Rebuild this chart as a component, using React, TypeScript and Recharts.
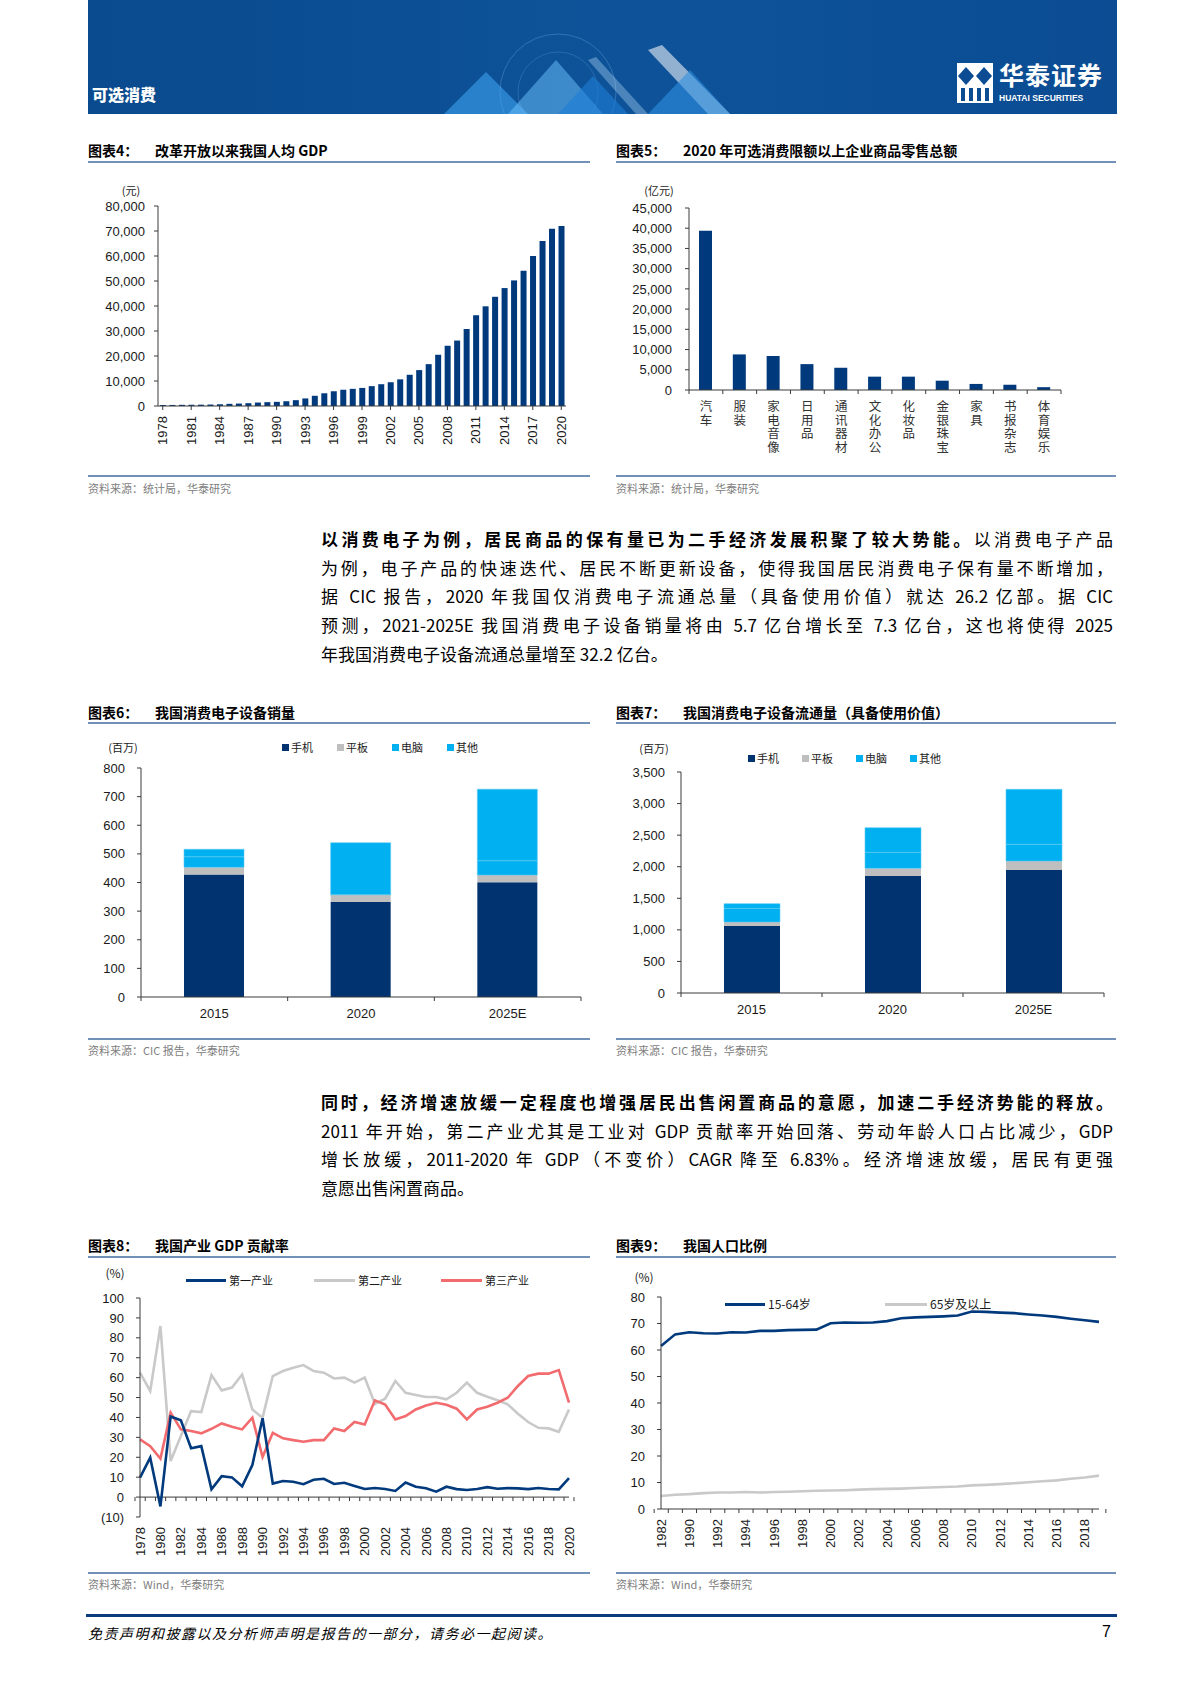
import React from "react";
import { BarChart, Bar, LineChart, Line, XAxis, YAxis, ReferenceLine } from "recharts";

const NAVY = "#003A7D";
const DEEP = "#00336F";
const GREY_BAR = "#BFBFBF";
const SKY = "#00B0F0";
const RED = "#F26B6E";
const GREY_LINE = "#C9C9C9";
const AXIS = "#3A3A3A";
const TXT = "#1A1A1A";
const RULE = "#7391B8";
const CJK = '"Noto Sans CJK SC", "Noto Sans", sans-serif';
const NUM = '"Liberation Sans", Arial, "Noto Sans CJK SC", sans-serif';

// 图表4 人均 GDP
const gdpYears = ["1978", "1979", "1980", "1981", "1982", "1983", "1984", "1985", "1986", "1987", "1988", "1989", "1990", "1991", "1992", "1993", "1994", "1995", "1996", "1997", "1998", "1999", "2000", "2001", "2002", "2003", "2004", "2005", "2006", "2007", "2008", "2009", "2010", "2011", "2012", "2013", "2014", "2015", "2016", "2017", "2018", "2019", "2020"];
const gdpPerCapita = [385, 423, 468, 497, 533, 588, 702, 866, 973, 1123, 1378, 1536, 1663, 1912, 2334, 3027, 4081, 5091, 5898, 6481, 6860, 7229, 7942, 8717, 9506, 10666, 12487, 14368, 16738, 20494, 24100, 26180, 30808, 36302, 39874, 43684, 47173, 50237, 54139, 60014, 66006, 70892, 72000];
const gdpTicks = [0, 10000, 20000, 30000, 40000, 50000, 60000, 70000, 80000];

// 图表5 零售总额
const retailCats = ["汽车", "服装", "家电音像", "日用品", "通讯器材", "文化办公", "化妆品", "金银珠宝", "家具", "书报杂志", "体育娱乐"];
const retailValues = [39400, 8800, 8400, 6400, 5500, 3300, 3300, 2300, 1500, 1300, 700];
const retailTicks = [0, 5000, 10000, 15000, 20000, 25000, 30000, 35000, 40000, 45000];

// 图表6/7 消费电子
const deviceYears = ["2015", "2020", "2025E"];
const deviceSeries = ["手机", "平板", "电脑", "其他"];
const salesPhone = [428, 332, 401];
const salesTablet = [25, 25, 25];
const salesPC = [37, 0, 50];
const salesOther = [26, 182, 250];
const salesTicks = [0, 100, 200, 300, 400, 500, 600, 700, 800];
const stockPhone = [1061, 1853, 1948];
const stockTablet = [63, 121, 142];
const stockPC = [217, 254, 265];
const stockOther = [74, 390, 871];
const stockTicks = [0, 500, 1000, 1500, 2000, 2500, 3000, 3500];

// 图表8 三产贡献率
const contribYears = gdpYears;
const primaryInd = [9.8, 19.8, -4.7, 40.5, 38.6, 24.5, 25.6, 3.9, 10.5, 9.9, 5.4, 16.1, 39.6, 6.8, 8.1, 7.7, 6.5, 8.7, 9.2, 6.6, 7.2, 5.6, 4.1, 4.6, 4.1, 3.1, 7.3, 5.2, 4.4, 2.7, 5.2, 4.0, 3.6, 4.1, 5.0, 4.2, 4.5, 4.4, 4.0, 4.6, 4.1, 3.9, 9.5];
const secondaryInd = [62.5, 53.3, 85.9, 18.1, 30.7, 43.2, 42.7, 61.3, 53.6, 55.0, 61.6, 44.0, 39.9, 60.8, 63.3, 65.0, 66.3, 63.3, 62.5, 59.6, 60.0, 57.5, 60.0, 46.8, 49.4, 58.3, 52.4, 51.3, 50.3, 50.3, 49.1, 52.4, 57.5, 52.4, 50.4, 48.6, 46.6, 41.9, 37.7, 34.8, 34.5, 32.8, 44.0];
const tertiaryInd = [29.0, 25.6, 19.3, 42.4, 34.0, 33.2, 32.0, 34.3, 37.0, 35.3, 34.0, 39.9, 20.1, 32.3, 29.5, 28.6, 27.8, 28.6, 28.6, 34.5, 33.2, 37.7, 36.5, 48.6, 46.5, 39.0, 40.7, 44.0, 46.0, 47.4, 46.4, 44.4, 39.0, 44.0, 45.4, 47.4, 49.9, 55.8, 60.8, 62.0, 62.0, 63.8, 47.4];
const contribTicks = [-10, 0, 10, 20, 30, 40, 50, 60, 70, 80, 90, 100];

// 图表9 人口比例
const popYears = ["1982", "1987", "1990", "1991", "1992", "1993", "1994", "1995", "1996", "1997", "1998", "1999", "2000", "2001", "2002", "2003", "2004", "2005", "2006", "2007", "2008", "2009", "2010", "2011", "2012", "2013", "2014", "2015", "2016", "2017", "2018", "2019"];
const working = [61.5, 65.9, 66.7, 66.3, 66.2, 66.7, 66.6, 67.2, 67.2, 67.5, 67.6, 67.7, 70.1, 70.4, 70.3, 70.4, 70.9, 72.0, 72.3, 72.5, 72.7, 73.0, 74.5, 74.4, 74.1, 73.9, 73.4, 73.0, 72.5, 71.8, 71.2, 70.6];
const elderly = [4.9, 5.4, 5.6, 6.0, 6.2, 6.2, 6.4, 6.2, 6.4, 6.5, 6.7, 6.9, 7.0, 7.1, 7.3, 7.5, 7.6, 7.7, 7.9, 8.1, 8.3, 8.5, 8.9, 9.1, 9.4, 9.7, 10.1, 10.5, 10.8, 11.4, 11.9, 12.6];
const popTicks = [0, 10, 20, 30, 40, 50, 60, 70, 80];

const gdpData = gdpYears.map((year, i) => ({ year, value: gdpPerCapita[i] }));
const retailData = retailCats.map((name, i) => ({ name, value: retailValues[i] }));
const salesData = deviceYears.map((year, i) => ({ year, phone: salesPhone[i], tablet: salesTablet[i], pc: salesPC[i], other: salesOther[i] }));
const stockData = deviceYears.map((year, i) => ({ year, phone: stockPhone[i], tablet: stockTablet[i], pc: stockPC[i], other: stockOther[i] }));
const contribData = contribYears.map((year, i) => ({ year, p: primaryInd[i], s: secondaryInd[i], t: tertiaryInd[i] }));
const popData = popYears.map((year, i) => ({ year, w: working[i], e: elderly[i] }));

const thousands = (v: number) => v.toLocaleString("en-US");
const paren = (v: number) => (v < 0 ? `(${-v})` : `${v}`);
const yTick = { fontSize: 13, fill: TXT, fontFamily: NUM };

// rotated year labels; tick marks either at centre or at band boundary
function yearTick(band: number, every: number, lift: number, count: number, boundary: boolean) {
  return (props: any) => {
    const { x, y, payload, index } = props;
    const ay = y - lift;
    const show = index % every === 0;
    return (
      <g>
        {boundary ? (
          <>
            <line x1={x - band / 2} x2={x - band / 2} y1={ay} y2={ay + 4} stroke={AXIS} />
            {index === count - 1 && <line x1={x + band / 2} x2={x + band / 2} y1={ay} y2={ay + 4} stroke={AXIS} />}
          </>
        ) : (
          show && <line x1={x} x2={x} y1={ay} y2={ay + 4} stroke={AXIS} />
        )}
        {show && (
          <text
            x={x}
            y={y + 10}
            transform={`rotate(-90 ${x} ${y + 10})`}
            textAnchor="end"
            dominantBaseline="central"
            fontSize={13}
            fontFamily={NUM}
            fill={TXT}
          >
            {payload.value}
          </text>
        )}
      </g>
    );
  };
}

// one label per category, set vertically (top to bottom)
function verticalCatTick(band: number, count: number) {
  return (props: any) => {
    const { x, y, payload, index } = props;
    return (
      <g>
        <line x1={x - band / 2} x2={x - band / 2} y1={y} y2={y + 4} stroke={AXIS} />
        {index === count - 1 && <line x1={x + band / 2} x2={x + band / 2} y1={y} y2={y + 4} stroke={AXIS} />}
        <text
          x={x}
          y={y + 10}
          textAnchor="start"
          fontSize={12.5}
          fontFamily={CJK}
          fill="#333"
          letterSpacing={1}
          style={{ writingMode: "vertical-rl" }}
        >
          {payload.value}
        </text>
      </g>
    );
  };
}

function flatCatTick(band: number, count: number) {
  return (props: any) => {
    const { x, y, payload, index } = props;
    return (
      <g>
        <line x1={x - band / 2} x2={x - band / 2} y1={y} y2={y + 4} stroke={AXIS} />
        {index === count - 1 && <line x1={x + band / 2} x2={x + band / 2} y1={y} y2={y + 4} stroke={AXIS} />}
        <text x={x} y={y + 21} textAnchor="middle" fontSize={13} fontFamily={NUM} fill={TXT}>
          {payload.value}
        </text>
      </g>
    );
  };
}

const Abs = ({ x, y, children, style }: any) => (
  <div style={{ position: "absolute", left: x, top: y, whiteSpace: "nowrap", ...style }}>{children}</div>
);

const Centered = ({ x, y, children, size = 11 }: any) => (
  <div
    style={{
      position: "absolute",
      left: x,
      top: y,
      transform: "translate(-50%, -50%)",
      fontSize: size,
      color: TXT,
      fontFamily: CJK,
      whiteSpace: "nowrap",
      lineHeight: 1,
    }}
  >
    {children}
  </div>
);

function Frame({ left, width, titleY, ruleY, bottomY, sourceY, label, title, source }: any) {
  return (
    <>
      <Abs x={left} y={titleY - 10} style={{ fontSize: 14, fontWeight: 700, lineHeight: "20px", color: "#000" }}>
        <span style={{ display: "inline-block", width: 67 }}>{label}</span>
        <span>{title}</span>
      </Abs>
      <div style={{ position: "absolute", left, top: ruleY, width, height: 1.5, background: RULE }} />
      <div style={{ position: "absolute", left, top: bottomY, width, height: 1.5, background: RULE }} />
      <Abs x={left} y={sourceY - 8} style={{ fontSize: 11, color: "#808080", lineHeight: "16px" }}>
        {source}
      </Abs>
    </>
  );
}

function SwatchLegend({ x, y, gap }: { x: number; y: number; gap: number }) {
  const colors = [DEEP, GREY_BAR, SKY, SKY];
  return (
    <>
      {deviceSeries.map((s, i) => (
        <div key={s} style={{ position: "absolute", left: x + i * gap, top: y - 7, display: "flex", alignItems: "center", height: 14 }}>
          <div style={{ width: 7, height: 7, background: colors[i], marginRight: 2 }} />
          <span style={{ fontSize: 11, color: TXT, lineHeight: "14px" }}>{s}</span>
        </div>
      ))}
    </>
  );
}

function LineLegend({ items }: { items: { x: number; y: number; len: number; color: string; text: string; size: number }[] }) {
  return (
    <>
      {items.map((it) => (
        <div key={it.text} style={{ position: "absolute", left: it.x, top: it.y - 8, display: "flex", alignItems: "center", height: 16 }}>
          <div style={{ width: it.len, height: 3, background: it.color, marginRight: 3 }} />
          <span style={{ fontSize: it.size, color: TXT, lineHeight: "16px", fontFamily: CJK }}>{it.text}</span>
        </div>
      ))}
    </>
  );
}

function Header() {
  return (
    <div
      style={{
        position: "absolute",
        left: 88,
        top: 0,
        width: 1029,
        height: 114,
        background: "linear-gradient(90deg, #0A4A8E 0%, #0E5399 55%, #0B4C93 100%)",
        overflow: "hidden",
      }}
    >
      <svg width={1029} height={114} style={{ position: "absolute", left: 0, top: 0 }}>
        <circle cx={470} cy={92} r={58} fill="none" stroke="#9FD3FF" strokeOpacity={0.25} />
        <circle cx={470} cy={92} r={40} fill="none" stroke="#9FD3FF" strokeOpacity={0.18} />
        <polygon points="356,114 398,72 440,114" fill="#3FA9F5" fillOpacity={0.55} />
        <polygon points="420,114 468,60 515,114" fill="#6EC3FF" fillOpacity={0.5} />
        <polygon points="470,114 505,76 540,114" fill="#1E7FD6" fillOpacity={0.6} />
        <polygon points="560,50 574,45 642,114 620,114" fill="#FFFFFF" fillOpacity={0.55} />
        <polygon points="560,114 602,70 642,114" fill="#2E8FE0" fillOpacity={0.6} />
        <polygon points="500,60 508,57 560,114 548,114" fill="#BFE3FF" fillOpacity={0.35} />
      </svg>
      <div style={{ position: "absolute", left: 4, top: 85, color: "#fff", fontSize: 16, fontWeight: 900, lineHeight: "18px" }}>可选消费</div>
      <svg width={36} height={40} style={{ position: "absolute", left: 869, top: 63 }}>
        <rect x={0} y={0} width={36} height={40} fill="#fff" />
        <polygon points="9,4 17,13 9,22 1,13" fill="#0B4C93" />
        <polygon points="27,4 35,13 27,22 19,13" fill="#0B4C93" />
        <rect x={4} y={25} width={4} height={13} fill="#0B4C93" />
        <rect x={12} y={25} width={4} height={13} fill="#0B4C93" />
        <rect x={20} y={25} width={4} height={13} fill="#0B4C93" />
        <rect x={28} y={25} width={4} height={13} fill="#0B4C93" />
      </svg>
      <div style={{ position: "absolute", left: 911, top: 60, color: "#fff", fontSize: 25, fontWeight: 700, lineHeight: "28px", letterSpacing: 1 }}>华泰证券</div>
      <div style={{ position: "absolute", left: 911, top: 93, color: "#fff", fontSize: 8.5, fontWeight: 700, lineHeight: "10px", fontFamily: NUM }}>HUATAI SECURITIES</div>
    </div>
  );
}

function Para({ top, lines }: { top: number; lines: React.ReactNode[] }) {
  return (
    <>
      {lines.map((ln, i) => (
        <div
          key={i}
          style={{
            position: "absolute",
            left: 321,
            top: top + i * 28.7 - 14,
            width: 792,
            fontSize: 17,
            lineHeight: "28px",
            textAlign: "justify",
            textAlignLast: i === lines.length - 1 ? "left" : "justify",
            color: "#000",
          }}
        >
          {ln}
        </div>
      ))}
    </>
  );
}

export default function App() {
  const band5 = 372 / retailCats.length;
  const band6 = 440 / deviceYears.length;
  const band7 = 423 / deviceYears.length;
  const band8 = 429 / contribYears.length;
  const band9 = 438 / popYears.length;
  const gdpBand = 408 / gdpYears.length;

  return (
    <div style={{ position: "relative", width: 1200, height: 1698, background: "#fff", fontFamily: CJK, overflow: "hidden" }}>
      <style>{"body{margin:0}"}</style>
      <Header />

      {/* 图表4 */}
      <Frame left={88} width={502} titleY={150} ruleY={161} bottomY={475} sourceY={488} label="图表4：" title="改革开放以来我国人均 GDP" source="资料来源：统计局，华泰研究" />
      <Centered x={131} y={190}>(元)</Centered>
      <div style={{ position: "absolute", left: 88, top: 170 }}>
        <BarChart width={500} height={290} data={gdpData} margin={{ top: 36, right: 22, left: 0, bottom: 0 }}>
          <YAxis width={70} type="number" domain={[0, 80000]} ticks={gdpTicks} interval={0} tickFormatter={thousands} tick={yTick} tickSize={4} tickMargin={9} axisLine={{ stroke: AXIS }} tickLine={{ stroke: AXIS }} />
          <XAxis dataKey="year" height={54} interval={0} tickSize={0} tickMargin={0} tickLine={false} axisLine={{ stroke: AXIS }} tick={yearTick(gdpBand, 3, 0, gdpYears.length, false)} />
          <Bar dataKey="value" fill={NAVY} barSize={6} isAnimationActive={false} />
        </BarChart>
      </div>

      {/* 图表5 */}
      <Frame left={616} width={500} titleY={150} ruleY={161} bottomY={475} sourceY={488} label="图表5：" title="2020 年可选消费限额以上企业商品零售总额" source="资料来源：统计局，华泰研究" />
      <Centered x={659} y={190}>(亿元)</Centered>
      <div style={{ position: "absolute", left: 612, top: 170 }}>
        <BarChart width={500} height={300} data={retailData} margin={{ top: 38, right: 51, left: 0, bottom: 0 }}>
          <YAxis width={77} type="number" domain={[0, 45000]} ticks={retailTicks} interval={0} tickFormatter={thousands} tick={yTick} tickSize={4} tickMargin={13} axisLine={{ stroke: AXIS }} tickLine={{ stroke: AXIS }} />
          <XAxis dataKey="name" height={80} interval={0} tickSize={0} tickMargin={0} tickLine={false} axisLine={{ stroke: AXIS }} tick={verticalCatTick(band5, retailCats.length)} />
          <Bar dataKey="value" fill={NAVY} barSize={13} isAnimationActive={false} />
        </BarChart>
      </div>

      <Para
        top={539}
        lines={[
          <><b>以消费电子为例，居民商品的保有量已为二手经济发展积聚了较大势能。</b>以消费电子产品</>,
          "为例，电子产品的快速迭代、居民不断更新设备，使得我国居民消费电子保有量不断增加，",
          "据 CIC 报告，2020 年我国仅消费电子流通总量（具备使用价值）就达 26.2 亿部。据 CIC",
          "预测，2021-2025E 我国消费电子设备销量将由 5.7 亿台增长至 7.3 亿台，这也将使得 2025",
          "年我国消费电子设备流通总量增至 32.2 亿台。",
        ]}
      />

      {/* 图表6 */}
      <Frame left={88} width={502} titleY={712} ruleY={722} bottomY={1038} sourceY={1050} label="图表6：" title="我国消费电子设备销量" source="资料来源：CIC 报告，华泰研究" />
      <Centered x={123} y={747}>(百万)</Centered>
      <SwatchLegend x={282} y={747} gap={55} />
      <div style={{ position: "absolute", left: 88, top: 730 }}>
        <BarChart width={500} height={297} data={salesData} margin={{ top: 38, right: 7, left: 0, bottom: 0 }}>
          <YAxis width={53} type="number" domain={[0, 800]} ticks={salesTicks} interval={0} tick={yTick} tickSize={4} tickMargin={12} axisLine={{ stroke: AXIS }} tickLine={{ stroke: AXIS }} />
          <XAxis dataKey="year" height={30} interval={0} tickSize={0} tickMargin={0} tickLine={false} axisLine={{ stroke: AXIS }} tick={flatCatTick(band6, deviceYears.length)} />
          <Bar dataKey="phone" stackId="s" fill={DEEP} barSize={60} isAnimationActive={false} />
          <Bar dataKey="tablet" stackId="s" fill={GREY_BAR} barSize={60} isAnimationActive={false} />
          <Bar dataKey="pc" stackId="s" fill={SKY} stroke="#5CCBF5" strokeWidth={0.6} barSize={60} isAnimationActive={false} />
          <Bar dataKey="other" stackId="s" fill={SKY} stroke="#5CCBF5" strokeWidth={0.6} barSize={60} isAnimationActive={false} />
        </BarChart>
      </div>

      {/* 图表7 */}
      <Frame left={616} width={500} titleY={712} ruleY={722} bottomY={1038} sourceY={1050} label="图表7：" title="我国消费电子设备流通量（具备使用价值）" source="资料来源：CIC 报告，华泰研究" />
      <Centered x={654} y={748}>(百万)</Centered>
      <SwatchLegend x={748} y={758} gap={54} />
      <div style={{ position: "absolute", left: 612, top: 734 }}>
        <BarChart width={500} height={289} data={stockData} margin={{ top: 38, right: 8, left: 0, bottom: 0 }}>
          <YAxis width={69} type="number" domain={[0, 3500]} ticks={stockTicks} interval={0} tickFormatter={thousands} tick={yTick} tickSize={4} tickMargin={12} axisLine={{ stroke: AXIS }} tickLine={{ stroke: AXIS }} />
          <XAxis dataKey="year" height={30} interval={0} tickSize={0} tickMargin={0} tickLine={false} axisLine={{ stroke: AXIS }} tick={flatCatTick(band7, deviceYears.length)} />
          <Bar dataKey="phone" stackId="s" fill={DEEP} barSize={56} isAnimationActive={false} />
          <Bar dataKey="tablet" stackId="s" fill={GREY_BAR} barSize={56} isAnimationActive={false} />
          <Bar dataKey="pc" stackId="s" fill={SKY} stroke="#5CCBF5" strokeWidth={0.6} barSize={56} isAnimationActive={false} />
          <Bar dataKey="other" stackId="s" fill={SKY} stroke="#5CCBF5" strokeWidth={0.6} barSize={56} isAnimationActive={false} />
        </BarChart>
      </div>

      <Para
        top={1102}
        lines={[
          <b>同时，经济增速放缓一定程度也增强居民出售闲置商品的意愿，加速二手经济势能的释放。</b>,
          "2011 年开始，第二产业尤其是工业对 GDP 贡献率开始回落、劳动年龄人口占比减少，GDP",
          "增长放缓，2011-2020 年 GDP（不变价）CAGR 降至 6.83%。经济增速放缓，居民有更强",
          "意愿出售闲置商品。",
        ]}
      />

      {/* 图表8 */}
      <Frame left={88} width={502} titleY={1245} ruleY={1256} bottomY={1572} sourceY={1584} label="图表8：" title="我国产业 GDP 贡献率" source="资料来源：Wind，华泰研究" />
      <Centered x={115} y={1273} size={12}>(%)</Centered>
      <LineLegend
        items={[
          { x: 186, y: 1280, len: 40, color: NAVY, text: "第一产业", size: 11 },
          { x: 314, y: 1280, len: 41, color: GREY_LINE, text: "第二产业", size: 11 },
          { x: 441, y: 1280, len: 41, color: RED, text: "第三产业", size: 11 },
        ]}
      />
      <div style={{ position: "absolute", left: 88, top: 1262 }}>
        <LineChart width={500} height={305} data={contribData} margin={{ top: 36, right: 19, left: 0, bottom: 0 }}>
          <YAxis width={52} type="number" domain={[-10, 100]} ticks={contribTicks} interval={0} tickFormatter={paren} tick={yTick} tickSize={4} tickMargin={12} axisLine={{ stroke: AXIS }} tickLine={{ stroke: AXIS }} />
          <XAxis dataKey="year" height={50} interval={0} tickSize={0} tickMargin={0} tickLine={false} axisLine={false} tick={yearTick(band8, 2, 219 / 11, contribYears.length, true)} />
          <ReferenceLine y={0} stroke={AXIS} strokeWidth={1} />
          <Line dataKey="s" stroke={GREY_LINE} strokeWidth={2.6} dot={false} isAnimationActive={false} />
          <Line dataKey="t" stroke={RED} strokeWidth={2.6} dot={false} isAnimationActive={false} />
          <Line dataKey="p" stroke={NAVY} strokeWidth={2.6} dot={false} isAnimationActive={false} />
        </LineChart>
      </div>

      {/* 图表9 */}
      <Frame left={616} width={500} titleY={1245} ruleY={1256} bottomY={1572} sourceY={1584} label="图表9：" title="我国人口比例" source="资料来源：Wind，华泰研究" />
      <Centered x={644} y={1277} size={12}>(%)</Centered>
      <LineLegend
        items={[
          { x: 725, y: 1304, len: 40, color: NAVY, text: "15-64岁", size: 12 },
          { x: 885, y: 1304, len: 42, color: GREY_LINE, text: "65岁及以上", size: 12 },
        ]}
      />
      <div style={{ position: "absolute", left: 612, top: 1262 }}>
        <LineChart width={500} height={297} data={popData} margin={{ top: 35, right: 13, left: 0, bottom: 0 }}>
          <YAxis width={49} type="number" domain={[0, 80]} ticks={popTicks} interval={0} tick={yTick} tickSize={4} tickMargin={12} axisLine={{ stroke: AXIS }} tickLine={{ stroke: AXIS }} />
          <XAxis dataKey="year" height={50} interval={0} tickSize={0} tickMargin={0} tickLine={false} axisLine={{ stroke: AXIS }} tick={yearTick(band9, 2, 0, popYears.length, true)} />
          <Line dataKey="e" stroke={GREY_LINE} strokeWidth={2.6} dot={false} isAnimationActive={false} />
          <Line dataKey="w" stroke={NAVY} strokeWidth={2.6} dot={false} isAnimationActive={false} />
        </LineChart>
      </div>

      {/* 页脚 */}
      <div style={{ position: "absolute", left: 86, top: 1614, width: 1031, height: 3, background: "#0B3C7D" }} />
      <Abs x={88} y={1623} style={{ fontSize: 14, fontStyle: "italic", lineHeight: "20px", color: "#000", letterSpacing: 1.5 }}>
        免责声明和披露以及分析师声明是报告的一部分，请务必一起阅读。
      </Abs>
      <Abs x={1102} y={1622} style={{ fontSize: 16, lineHeight: "20px", color: "#000", fontFamily: NUM }}>
        7
      </Abs>
    </div>
  );
}
